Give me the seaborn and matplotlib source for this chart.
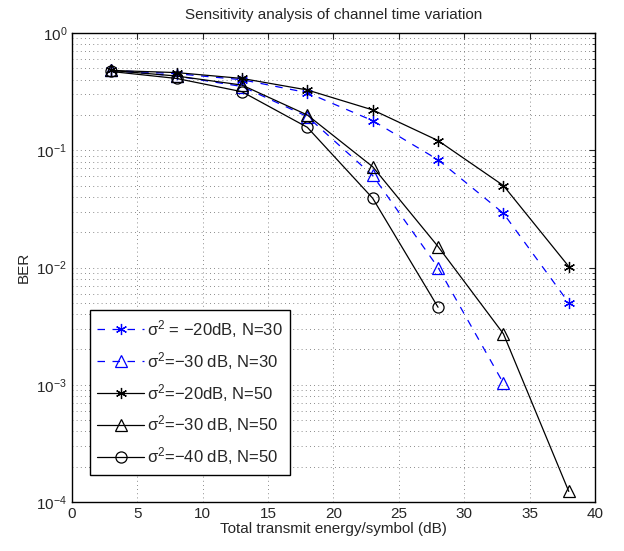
import numpy as np
import pandas as pd
import matplotlib
matplotlib.use('Agg')
import matplotlib.pyplot as plt
import seaborn as sns
from matplotlib.ticker import LogLocator

sns.set_style('white')
plt.rcParams['font.family'] = ['Liberation Sans', 'DejaVu Sans']
plt.rcParams['mathtext.fontset'] = 'custom'
plt.rcParams['mathtext.rm'] = 'Liberation Sans'
plt.rcParams['mathtext.it'] = 'Liberation Sans'

# data
snr = [3, 8, 13, 18, 23, 28, 33, 38]
ber_20_n30 = [0.48, 0.45, 0.40, 0.31, 0.179, 0.083, 0.029, 0.005]
ber_30_n30 = [0.48, 0.43, 0.35, 0.194, 0.061, 0.010, 0.00103]
ber_20_n50 = [0.48, 0.46, 0.41, 0.327, 0.221, 0.121, 0.050, 0.0102]
ber_30_n50 = [0.48, 0.43, 0.36, 0.20, 0.0724, 0.0151, 0.00272, 0.000123]
ber_40_n50 = [0.47, 0.41, 0.316, 0.157, 0.039, 0.00458]

labels = ['σ$^2$ = −20dB, N=30',
          'σ$^2$=−30 dB, N=30',
          'σ$^2$=−20dB, N=50',
          'σ$^2$=−30 dB, N=50',
          'σ$^2$=−40 dB, N=50']
series = [ber_20_n30, ber_30_n30, ber_20_n50, ber_30_n50, ber_40_n50]
colors = ['#0000FF', '#0000FF', 'black', 'black', 'black']
markers = [(6, 2, 0), '^', (6, 2, 0), '^', 'o']
dashed = [True, True, False, False, False]

fig = plt.figure(figsize=(6.24, 5.51), dpi=100)
ax = fig.add_axes([0.1154, 0.089, 0.838, 0.851])

for lab, ys, col, mk, dsh in zip(labels, series, colors, markers, dashed):
    df = pd.DataFrame({'x': snr[:len(ys)], 'y': ys})
    sns.lineplot(data=df, x='x', y='y', ax=ax, color=col, marker=mk,
                 markersize=8, markerfacecolor='none', markeredgecolor=col,
                 markeredgewidth=0.9, linewidth=0.9, label=lab)
    if dsh:
        ax.get_lines()[-1].set_linestyle((0, (6, 6)))

ax.set_yscale('log')
ax.set_xlim(0, 40)
ax.set_ylim(1e-4, 1)
ax.set_xticks(range(0, 41, 5))
ax.yaxis.set_major_locator(LogLocator(base=10, numticks=10))
ax.yaxis.set_minor_locator(LogLocator(base=10, subs=np.arange(2, 10), numticks=20))
ax.grid(True, which='major', color='#666666', linestyle=(0, (1, 4)), linewidth=0.6)
ax.grid(True, which='minor', axis='y', color='#666666', linestyle=(0, (1, 4)), linewidth=0.6)
ax.tick_params(direction='in', which='both', top=True, right=True, labelsize=11, length=4)
ax.tick_params(which='minor', length=2)
for sp in ax.spines.values():
    sp.set_edgecolor('black')
    sp.set_linewidth(1.0)

ax.set_xlabel('Total transmit energy/symbol (dB)', fontsize=11, labelpad=1)
ax.set_ylabel('BER', fontsize=11)
ax.set_title('Sensitivity analysis of channel time variation', fontsize=11, pad=10)

leg = ax.legend(loc='lower left', bbox_to_anchor=(0.018, 0.04), fontsize=12,
                frameon=True, fancybox=False, edgecolor='black', framealpha=1,
                handlelength=2.8, labelspacing=0.6, borderpad=0.45, handletextpad=0.2)
leg.get_frame().set_linewidth(1.0)

fig.savefig('out.png', dpi=100)
